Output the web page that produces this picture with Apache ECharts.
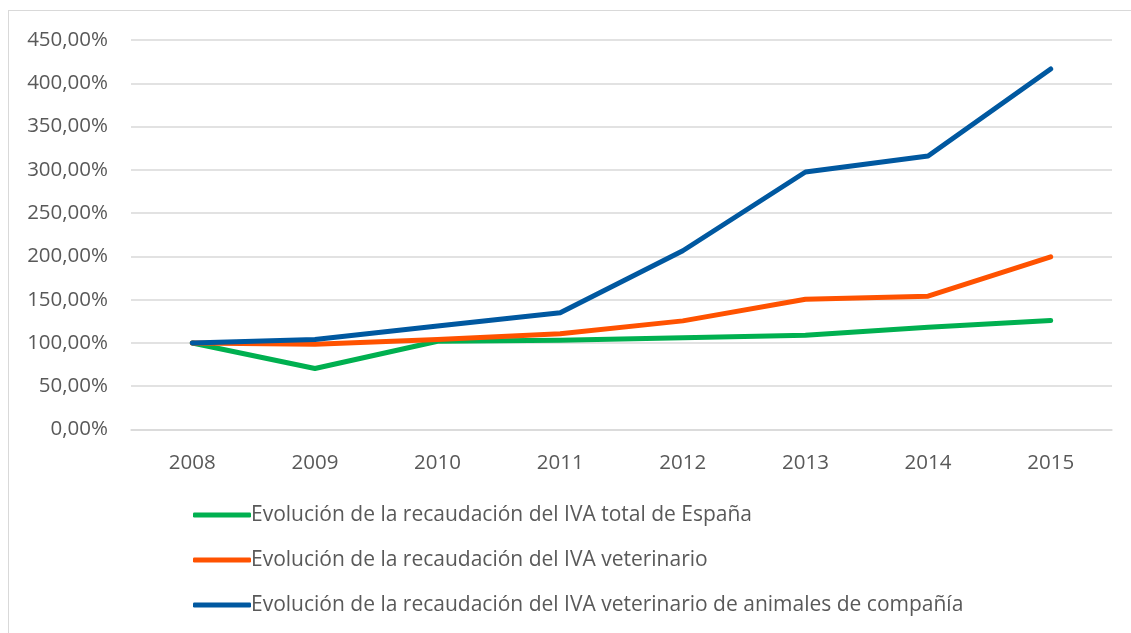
<!DOCTYPE html>
<html>
<head>
<meta charset="utf-8">
<script src="https://cdn.jsdelivr.net/npm/echarts@6/dist/echarts.min.js"></script>
<style>
html,body{margin:0;padding:0;background:#fff;}
#frame{position:absolute;left:8px;top:10px;width:1123px;height:623px;border-top:1px solid #d9d9d9;border-left:1px solid #d9d9d9;}
#chart{position:absolute;left:0;top:0;width:1131px;height:633px;}
</style>
</head>
<body>
<div id="frame"></div>
<div id="chart"></div>
<script>
var categories = ['2008','2009','2010','2011','2012','2013','2014','2015'];
var seriesNames = [
  'Evolución de la recaudación del IVA total de España',
  'Evolución de la recaudación del IVA veterinario',
  'Evolución de la recaudación del IVA veterinario de animales de compañía'
];
var ivaTotal = [100, 70.5, 102, 103, 106, 109, 118, 126];
var ivaVeterinario = [100, 98.5, 104, 110.5, 125.5, 150.5, 154, 199.5];
var ivaMascotas = [100, 104, 119.5, 135, 206.5, 297.5, 316, 416.5];
var colors = ['#00b050', '#ff5200', '#0058a0'];

var fontFam = '"Open Sans", sans-serif';
var chart = echarts.init(document.getElementById('chart'));
function mk(name, data, color) {
  return {
    name: name, type: 'line', data: data, symbol: 'none',
    lineStyle: { width: 5, color: color, cap: 'round', join: 'round' },
    itemStyle: { color: color },
    animation: false
  };
}
chart.setOption({
  animation: false,
  grid: { left: 131, right: 19, top: 40, bottom: 203.5, containLabel: false },
  xAxis: {
    type: 'category', data: categories, boundaryGap: true,
    axisLine: { lineStyle: { color: '#d9d9d9', width: 1.5 } },
    axisTick: { show: false },
    axisLabel: { color: '#595959', fontSize: 20.5, fontFamily: fontFam, margin: 23 }
  },
  yAxis: {
    type: 'value', min: 0, max: 450, interval: 50,
    axisLine: { show: false }, axisTick: { show: false },
    splitLine: { lineStyle: { color: '#d9d9d9', width: 1.5 } },
    axisLabel: {
      color: '#595959', fontSize: 20.5, fontFamily: fontFam, margin: 23,
      formatter: function (v) { return v.toFixed(2).replace('.', ',') + '%'; }
    }
  },
  legend: {
    orient: 'vertical', left: 188, top: 499,
    icon: 'roundRect', itemWidth: 58, itemHeight: 5, itemGap: 23,
    textStyle: { color: '#595959', fontSize: 21, fontFamily: fontFam, lineHeight: 22, padding: [0,0,0,-5] },
    data: seriesNames
  },
  series: [
    mk(seriesNames[0], ivaTotal, colors[0]),
    mk(seriesNames[1], ivaVeterinario, colors[1]),
    mk(seriesNames[2], ivaMascotas, colors[2])
  ]
});
</script>
</body>
</html>
